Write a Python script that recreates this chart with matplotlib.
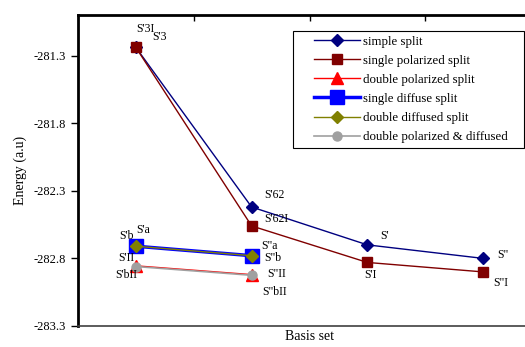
import numpy as np
import matplotlib.pyplot as plt
from matplotlib.lines import Line2D
from matplotlib.legend_handler import HandlerLine2D

plt.rcParams['font.family'] = ['Liberation Serif', 'DejaVu Serif']

# categories (basis sets) 1..4
cats = [1, 2, 3, 4]
nan = np.nan

simple_split = [-281.24, -282.42, -282.70, -282.80]
single_pol = [-281.24, -282.56, -282.83, -282.90]
double_pol = [-282.855, -282.92, nan, nan]
single_diff = [-282.71, -282.78, nan, nan]
double_diff = [-282.71, -282.78, nan, nan]
double_pol_diff = [-282.86, -282.925, nan, nan]

names = ["simple split", "single polarized split", "double polarized split",
         "single diffuse split", "double diffused split",
         "double polarized & diffused"]

fig = plt.figure(figsize=(5.25, 3.47), dpi=100)
ax = fig.add_axes([78/525, 21/347, 463/525, 311/347])

ax.plot(cats, simple_split, color="#000080", lw=1.0, marker="D", ms=6, label=names[0])
ax.plot(cats, single_pol, color="#800000", lw=1.0, marker="s", ms=7, label=names[1])
ax.plot(cats, double_pol, color="#ff0000", lw=1.0, marker="^", ms=9, label=names[2])
ax.plot(cats, single_diff, color="#0000ff", lw=2.5, marker="s", ms=10.5, label=names[3])
ax.plot(cats, double_diff, color="#808000", lw=1.0, marker="D", ms=6, label=names[4])
ax.plot(cats, double_pol_diff, color="#a0a0a0", lw=1.2, marker="o", ms=6.5, label=names[5])

# point labels: (series, index, text, offset in points)
labels = [
    (single_pol, 0, "S'3I", (0, 9)),
    (simple_split, 0, "S'3", (12, 3)),
    (simple_split, 1, "S'62", (9, 4)),
    (single_pol, 1, "S'62I", (9, 1)),
    (simple_split, 2, "S'", (9, 2)),
    (single_pol, 2, "S'I", (-2, -13)),
    (simple_split, 3, 'S"', (10, -2)),
    (single_pol, 3, 'S"I', (7, -12)),
    (single_diff, 0, "S'a", (0, 7)),
    (single_diff, 0, "S'b", (-12, 3)),
    (double_pol, 0, "S'II", (-13, 1)),
    (double_pol, 0, "S'bII", (-15, -11)),
    (single_diff, 1, 'S"a', (7, 3)),
    (single_diff, 1, 'S"b', (9, -6)),
    (double_pol, 1, 'S"II', (11, -4)),
    (double_pol, 1, 'S"bII', (8, -17)),
]
for series, i, txt, off in labels:
    ax.annotate(txt, (cats[i], series[i]), xytext=off, textcoords="offset points",
                fontsize=8.5, va="bottom", ha="left")

ax.set_xlim(0.5, 4.5)
ax.set_ylim(-283.3, -281.0)
yt = np.arange(-283.3, -281.2, 0.5)
ax.set_yticks(yt)
ax.set_yticklabels(["%.1f" % v for v in yt])
ax.tick_params(axis="y", direction="out", length=5, width=1, labelsize=9)

ax.xaxis.tick_top()
ax.set_xticks([1.5, 2.5, 3.5])
ax.tick_params(axis="x", direction="in", length=4, width=1, labeltop=False)

ax.spines["top"].set_linewidth(2)
ax.spines["left"].set_linewidth(2)
ax.spines["bottom"].set_color("#404040")
ax.spines["bottom"].set_linewidth(1.2)
ax.spines["right"].set_visible(False)

ax.set_ylabel("Energy (a.u)", fontsize=10)
ax.yaxis.set_label_coords(-0.11, 0.5)
ax.set_xlabel("Basis set", fontsize=10)
ax.xaxis.set_label_position("bottom")
ax.xaxis.labelpad = 3

leg = ax.legend(loc="upper left",
                bbox_to_anchor=(293/525, 1 - 149/347, 231/525, 118/347),
                bbox_transform=fig.transFigure, mode="expand",
                fontsize=9.3, frameon=True, fancybox=False, edgecolor="black",
                framealpha=1, handlelength=4.8, handletextpad=0.3,
                labelspacing=0.55, borderpad=0.35, borderaxespad=0,
                handler_map={Line2D: HandlerLine2D(xpad=1.24)})
leg.get_frame().set_linewidth(0.8)

fig.savefig("out.png", dpi=100)
